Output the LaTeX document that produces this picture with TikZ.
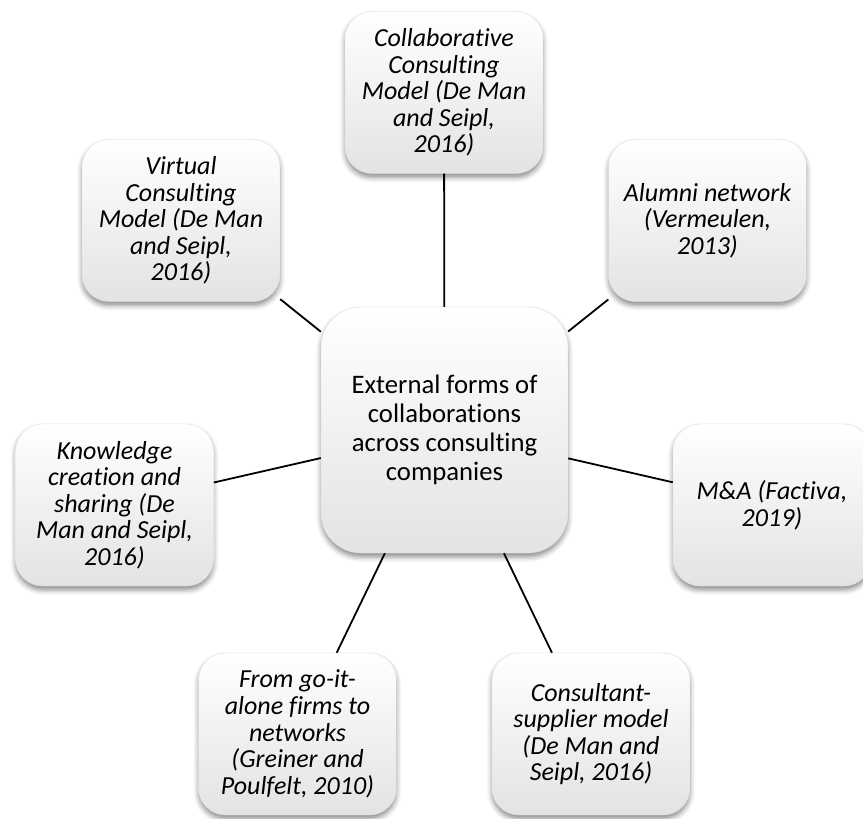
\documentclass[tikz,border=0pt]{standalone}
\usepackage{fontspec}
\setmainfont{Carlito}[Ligatures={NoCommon}]
\usetikzlibrary{shadows.blur}
\begin{document}
\begin{tikzpicture}[x=1pt,y=-1pt,
  card/.style={rounded corners=#1, draw=black!12, line width=0.4pt,
    top color=white, middle color=white, bottom color=black!11,
    blur shadow={shadow xshift=0pt, shadow yshift=-4pt, shadow opacity=45, shadow blur radius=5pt},
    inner sep=0pt, align=center, text=black},
  satellite/.style={card=27pt, minimum width=198pt, minimum height=162pt,
    font=\itshape\fontsize{26}{26.6}\selectfont},
  hub/.style={card=40pt, minimum width=247pt, minimum height=246pt,
    font=\fontsize{26.7}{29.2}\selectfont},
  spoke/.style={draw=black, line width=1.8pt}]
\useasboundingbox (0,0) rectangle (863,819);
\clip (0,0) rectangle (863,819);

% satellites
\node[satellite] (collab) at (444,92.5) {Collaborative\\Consulting\\Model (De Man\\and Seipl,\\2016)};
\node[satellite] (virtual) at (181,220.5) {Virtual\\Consulting\\Model (De Man\\and Seipl,\\2016)};
\node[satellite] (alumni) at (707.5,220.5) {Alumni network\\(Vermeulen,\\2013)};
\node[satellite] (knowledge) at (114.5,505) {Knowledge\\creation and\\sharing (De\\Man and Seipl,\\2016)};
\node[satellite] (ma) at (772,505) {M\&A (Factiva,\\2019)};
\node[satellite] (goalone) at (297.5,734) {From go-it-\\alone firms to\\networks\\(Greiner and\\Poulfelt, 2010)};
\node[satellite] (supplier) at (591,734) {Consultant-\\supplier model\\(De Man and\\Seipl, 2016)};

% hub
\node[hub] (hub) at (444.5,430) {External forms of\\collaborations\\across consulting\\companies};

% spokes
\foreach \s in {collab,virtual,alumni,knowledge,ma,goalone,supplier}
  \draw[spoke] (hub) -- (\s);
\end{tikzpicture}
\end{document}
